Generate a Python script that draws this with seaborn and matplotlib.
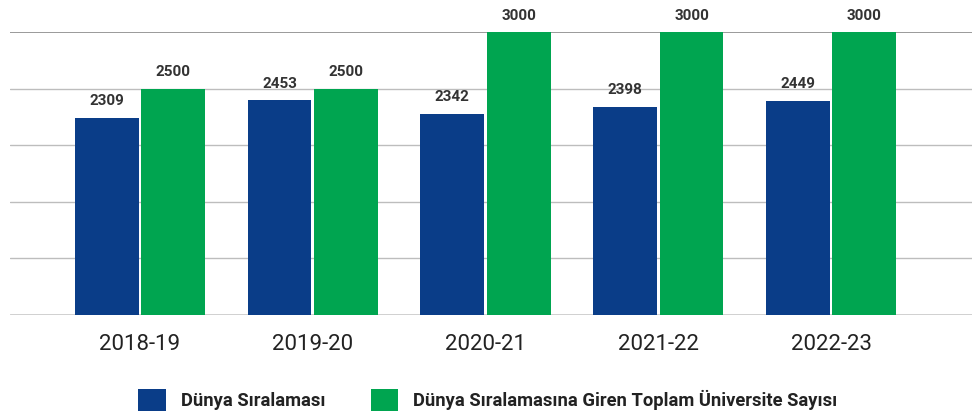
import pandas as pd
import seaborn as sns
import matplotlib.pyplot as plt
from matplotlib.patches import Patch

years = ['2018-19', '2019-20', '2020-21', '2021-22', '2022-23']
rank = [2309, 2453, 2342, 2398, 2449]
total = [2500, 2500, 3000, 3000, 3000]
series = ['Dünya Sıralaması', 'Dünya Sıralamasına Giren Toplam Üniversite Sayısı']
colors = ['#0a3d88', '#00a550']

df = pd.concat([
    pd.DataFrame({'year': years, 'value': rank, 'series': series[0]}),
    pd.DataFrame({'year': years, 'value': total, 'series': series[1]}),
])

sns.set_theme(style='white')
plt.rcParams['font.family'] = ['Roboto', 'DejaVu Sans']

fig = plt.figure(figsize=(9.72, 4.18), dpi=100)
ax1 = fig.add_axes([10 / 972, 1 - 314.5 / 418, 962 / 972, 282.2 / 418])
ax2 = ax1.twinx()

pal = dict(zip(series, colors))
# draw both series on both axes (to get the dodge), keep green on ax1, blue on ax2
for ax, keep in ((ax1, 1), (ax2, 0)):
    sns.barplot(data=df, x='year', y='value', hue='series',
                order=years, hue_order=series, palette=pal, width=0.77, gap=0.04,
                saturation=1, linewidth=0, legend=False, ax=ax)
    drop = ax.containers[1 - keep]
    for p in drop:
        p.remove()
    ax.containers.remove(drop)

for ax in (ax1, ax2):
    ax.set_xlim(-0.7525, 4.816)
    ax.set_xlabel('')
    ax.set_ylabel('')
    for s in ax.spines.values():
        s.set_visible(False)
    ax.tick_params(axis='y', left=False, right=False, labelleft=False, labelright=False)
    for c in ax.containers:
        ax.bar_label(c, padding=7, fontsize=11, fontweight='bold', color='#333333')

ax1.set_ylim(500, 3000)
ax2.set_ylim(730, 3000)
ax1.set_yticks([500, 1000, 1500, 2000, 2500, 3000])
ax1.set_axisbelow(True)
ax1.grid(axis='y', color='#bdbdbd', linewidth=1)
gl = ax1.get_ygridlines()
gl[-1].set_color('#9a9a9a')
gl[-1].set_linewidth(1.4)
gl[0].set_color('#cccccc')
gl[0].set_linewidth(2)
ax1.tick_params(axis='x', length=0, pad=14, labelsize=16, labelcolor='#222222')
ax2.tick_params(axis='x', bottom=False, labelbottom=False)

handles = [Patch(facecolor=c, edgecolor='none') for c in colors]
fig.legend(handles, series, loc='center', bbox_to_anchor=(0.502, 1 - 400 / 418),
           ncol=2, frameon=False, handlelength=1.5, handleheight=1.5,
           handletextpad=0.8, columnspacing=2.5,
           prop={'size': 13.2, 'weight': 'bold'}, labelcolor='#222222')

fig.savefig('out.png', dpi=100)
